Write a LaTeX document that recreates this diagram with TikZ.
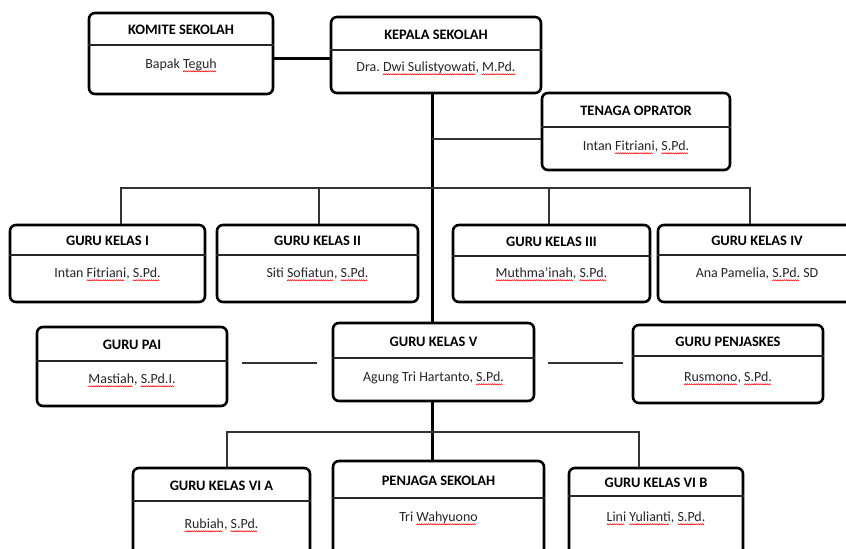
\documentclass[tikz,border=0pt]{standalone}
\usepackage{fontspec}
\setmainfont{Carlito}
\frenchspacing
\newsavebox\wavebox
\newsavebox\wordbox
\newcommand\rw[1]{\sbox\wordbox{#1}\rlap{\raisebox{-3.6bp}[0pt][0pt]{\hbox to \wd\wordbox{\leaders\copy\wavebox\hfill}}}\usebox\wordbox}
\definecolor{txt}{HTML}{262626}
\tikzset{
 box/.style={draw, line width=2.6bp, rounded corners=6bp, inner sep=0pt, fill=white},
 ttl/.style={font=\bfseries\fontsize{14.5}{16}\selectfont, inner sep=0pt, text height=9.3bp, text depth=0bp},
 per/.style={font=\fontsize{14}{16}\selectfont, text=txt, inner sep=0pt, text height=9bp, text depth=0bp},
 divline/.style={line width=1.8bp, draw=black!85},
 thinline/.style={line width=1.3bp, draw=black!80},
 thickline/.style={line width=3bp},
 midline/.style={line width=2bp, draw=black!80}
}
\newcommand\orgbox[9]{%
 \node[box, minimum width={(#4-#2)*1bp}, minimum height={(#5-#3)*1bp}] (#1) at ({(#2+#4)/2},{(#3+#5)/2}) {};
 \draw[divline] (#1.west |- 0,#6) -- (#1.east |- 0,#6);
 \node[ttl] (#1-t) at ({(#2+#4)/2},{(#3+#6)/2+1}) {#7};
 \node[per] (#1-p) at ({(#2+#4)/2},#9) {#8};
}
\begin{document}
\setbox\wavebox\hbox{\begin{pgfpicture}%
\pgfpathrectangle{\pgfpoint{0bp}{0bp}}{\pgfpoint{2.2bp}{1.6bp}}%
\pgfusepath{use as bounding box}%
\pgfsetstrokecolor{red}\pgfsetlinewidth{0.55bp}%
\pgfpathmoveto{\pgfpoint{0bp}{0.2bp}}%
\pgfpathlineto{\pgfpoint{1.1bp}{1.4bp}}%
\pgfpathlineto{\pgfpoint{2.2bp}{0.2bp}}%
\pgfusepath{stroke}%
\end{pgfpicture}}%
\begin{tikzpicture}[x=1bp,y=-1bp]
\path[use as bounding box] (0,0) rectangle (846,549);
\clip (0,0) rectangle (846,549);
\fill[white] (0,0) rectangle (846,549);

\orgbox{komite}{89}{13}{273}{94}{45}{KOMITE SEKOLAH}{Bapak \rw{Teguh}}{64}
\orgbox{kepala}{331}{17}{541}{93}{50}{KEPALA SEKOLAH}{Dra. \rw{Dwi Sulistyowati}, \rw{M.Pd.}}{67}
\orgbox{tenaga}{542}{93}{730}{170}{127}{TENAGA OPRATOR}{Intan \rw{Fitriani}, \rw{S.Pd.}}{146}
\orgbox{g1}{10}{225}{205}{302}{255}{GURU KELAS I}{Intan \rw{Fitriani}, \rw{S.Pd.}}{273}
\orgbox{g2}{217}{225}{418}{302}{255}{GURU KELAS II}{Siti \rw{Sofiatun}, \rw{S.Pd.}}{273}
\orgbox{g3}{453}{225}{650}{302}{256}{GURU KELAS III}{\rw{Muthma’inah}, \rw{S.Pd.}}{273}
\orgbox{g4}{658}{225}{856}{302}{255}{GURU KELAS IV}{Ana Pamelia, \rw{S.Pd.} SD}{273}
\orgbox{pai}{37}{327}{227}{406}{361}{GURU PAI}{\rw{Mastiah}, \rw{S.Pd.I.}}{379}
\orgbox{g5}{333}{323}{534}{401}{358}{GURU KELAS V}{Agung Tri Hartanto, \rw{S.Pd.}}{377}
\orgbox{penj}{633}{325}{823}{403}{356}{GURU PENJASKES}{\rw{Rusmono}, \rw{S.Pd.}}{377}
\orgbox{g6a}{133}{468}{310}{556}{501}{GURU KELAS VI A}{\rw{Rubiah}, \rw{S.Pd.}}{524}
\orgbox{penjaga}{333}{461}{544}{556}{498}{PENJAGA SEKOLAH}{Tri \rw{Wahyuono}}{517}
\orgbox{g6b}{569}{468}{743}{556}{496}{GURU KELAS VI B}{\rw{Lini} \rw{Yulianti}, \rw{S.Pd.}}{517}

% connectors
\coordinate (spine) at (432,0);
\coordinate (kk) at (0,59);
\draw[thickline] (komite.east |- kk) -- (kepala.west |- kk);
\draw[thickline] (kepala.south -| spine) -- (g5.north -| spine);
\draw[thickline] (g5.south -| spine) -- (penjaga.north -| spine);
\coordinate (tj) at (0,139);
\draw[thinline] (spine |- tj) -- (tenaga.west |- tj);

\coordinate (b1) at (121,188);
\coordinate (b2) at (319,188);
\coordinate (b3) at (549,188);
\coordinate (b4) at (750,188);
\draw[thinline] (b1 |- g1.north) -- (b1) -- (b4) -- (b4 |- g4.north);
\draw[thinline] (b2) -- (b2 |- g2.north);
\draw[thinline] (b3) -- (b3 |- g3.north);

\coordinate (c1) at (227,432);
\coordinate (c2) at (639,432);
\draw[thinline] (c1 |- g6a.north) -- (c1) -- (c2) -- (c2 |- g6b.north);

\coordinate (m1) at (242,363);
\coordinate (m2) at (317,363);
\coordinate (m3) at (548,363);
\coordinate (m4) at (623,363);
\draw[midline] (m1) -- (m2);
\draw[midline] (m3) -- (m4);
\end{tikzpicture}
\end{document}
